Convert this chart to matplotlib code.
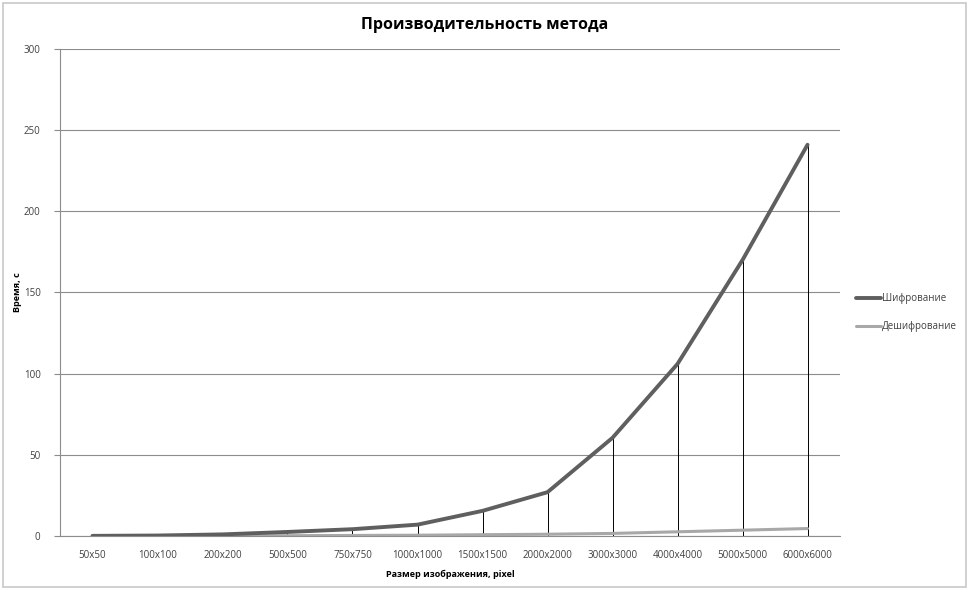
import matplotlib
matplotlib.use("Agg")
import matplotlib.pyplot as plt
from matplotlib.patches import Rectangle

# data
sizes = ["50x50", "100x100", "200x200", "500x500", "750x750", "1000x1000",
         "1500x1500", "2000x2000", "3000x3000", "4000x4000", "5000x5000", "6000x6000"]
encrypt = [0.1, 0.3, 1.0, 2.5, 4.2, 7.0, 15.5, 27.0, 60.5, 106.0, 170.0, 241.0]
decrypt = [0.0, 0.05, 0.1, 0.2, 0.35, 0.5, 0.8, 1.1, 1.6, 2.6, 3.6, 4.6]
yticks = [0, 50, 100, 150, 200, 250, 300]

plt.rcParams['font.family'] = ['Open Sans', 'DejaVu Sans']

fig = plt.figure(figsize=(9.69, 5.90), dpi=100)
# chart area border
fig.patches.append(Rectangle((0.003, 0.005), 0.994, 0.99, transform=fig.transFigure,
                             fill=False, edgecolor="#c8c8c8", linewidth=1.2))

ax = fig.add_axes([0.0619, 0.0915, 0.805, 0.8255])
x = list(range(len(sizes)))

# drop lines from the upper series
ax.vlines(x, 0, encrypt, colors="black", linewidth=0.7, zorder=2)

ax.plot(x, encrypt, color="#5f5f5f", linewidth=2.8, label="Шифрование", zorder=4,
        solid_capstyle="round")
ax.plot(x, decrypt, color="#a8a8a8", linewidth=2.2, label="Дешифрование", zorder=3,
        solid_capstyle="round")

ax.set_xlim(-0.5, len(sizes) - 0.5)
ax.set_ylim(0, 300)
ax.set_yticks(yticks)
ax.set_xticks(x)
ax.set_xticklabels(sizes)
ax.yaxis.grid(True, color="#8c8c8c", linewidth=0.8)
ax.set_axisbelow(True)

for s in ["top", "right"]:
    ax.spines[s].set_visible(False)
for s in ["left", "bottom"]:
    ax.spines[s].set_color("#8c8c8c")
    ax.spines[s].set_linewidth(0.8)

ax.tick_params(axis="y", length=4, color="#8c8c8c", labelsize=7, labelcolor="#404040", pad=10)
ax.tick_params(axis="x", length=0, labelsize=7, labelcolor="#404040", pad=10)

fig.text(0.5, 0.957, "Производительность метода", fontsize=11.5, fontweight="bold",
         ha="center", va="center")
ax.set_xlabel("Размер изображения, pixel", fontsize=6.5, fontweight="bold", labelpad=6)
ax.set_ylabel("Время, с", fontsize=6.5, fontweight="bold")
ax.yaxis.set_label_coords(-0.049, 0.5)

fig.legend(loc="center left", bbox_to_anchor=(0.874, 0.47), frameon=False,
           fontsize=7, handlelength=2.6, handletextpad=0.1, labelspacing=1.8,
           labelcolor="#404040")

fig.savefig("out.png", dpi=100)
